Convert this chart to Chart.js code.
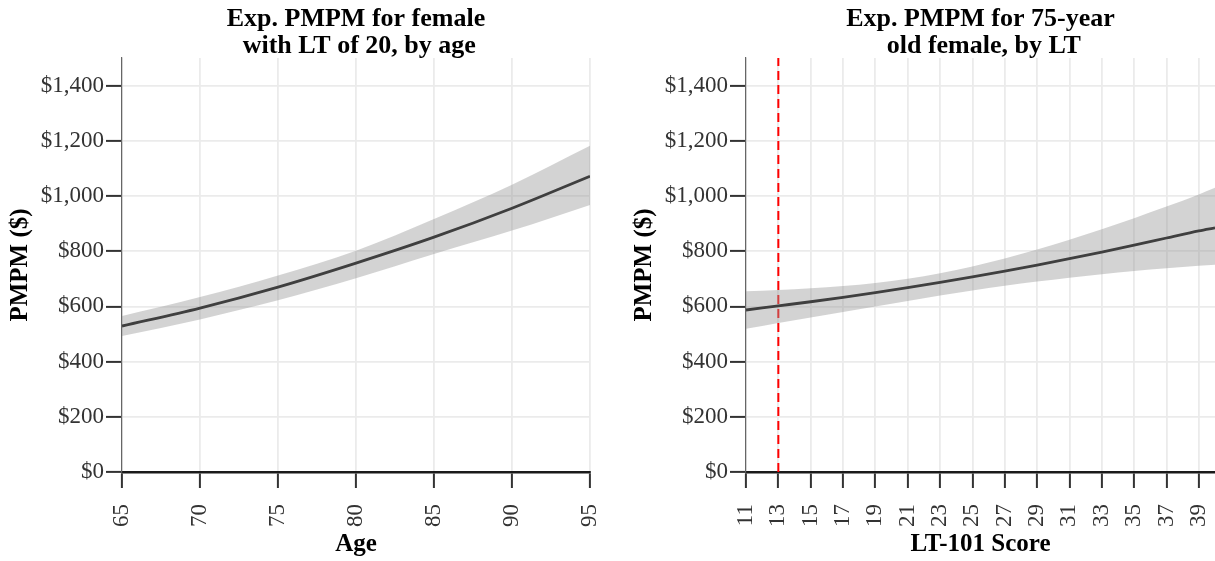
<!DOCTYPE html>
<html>
<head>
<meta charset="utf-8">
<title>Expected PMPM</title>
<script src="https://cdn.jsdelivr.net/npm/chart.js@4.4.1/dist/chart.umd.min.js"></script>
<style>
  html, body { margin: 0; padding: 0; background: #fff; }
  #wrap { position: relative; width: 1215px; height: 561px; overflow: hidden; }
  canvas { position: absolute; top: 0; }
  #ageChart { left: 0; }
  #ltChart { left: 624px; }
</style>
</head>
<body>
<div id="wrap">
  <canvas id="ageChart" width="607" height="561"></canvas>
  <canvas id="ltChart" width="591" height="561"></canvas>
</div>
<script>
// Panel 1: female with LT of 20, by age
const ages     = [65, 70, 75, 80, 85, 90, 95];
const ageFit   = [529, 594, 670, 757, 851, 956, 1072];
const ageLower = [493, 553, 622, 702, 790, 875, 968];
const ageUpper = [565, 634, 712, 802, 917, 1041, 1182];

// Panel 2: 75-year-old female, by LT-101 score
const ltScores = [11, 13, 15, 17, 19, 21, 23, 25, 27, 29, 31, 33, 35, 37, 39, 40];
const ltFit    = [587, 602, 617, 633, 650, 668, 687, 707, 728, 750, 773, 797, 822, 848, 874, 885];
const ltLower  = [519, 540, 560, 580, 600, 620, 640, 658, 675, 690, 704, 717, 728, 738, 747, 751];
const ltUpper  = [655, 660, 666, 674, 685, 700, 720, 745, 774, 806, 842, 880, 920, 962, 1006, 1030];
const ltCutoff = 13;

// Axis ticks
const pmpmTicks = [0, 200, 400, 600, 800, 1000, 1200, 1400];
const ageTicks  = [65, 70, 75, 80, 85, 90, 95];
const ltTicks   = [11, 13, 15, 17, 19, 21, 23, 25, 27, 29, 31, 33, 35, 37, 39];

const SERIF = "'Liberation Serif', 'Times New Roman', serif";

function pts(xs, ys) { return xs.map((x, i) => ({ x: x, y: ys[i] })); }
function dollars(v) { return '$' + String(v).replace(/\B(?=(\d{3})+(?!\d))/g, ','); }

function panel(canvasId, cfg) {
  const datasets = [
    { data: pts(cfg.xs, cfg.upper), borderWidth: 0, pointRadius: 0, fill: '+1',
      backgroundColor: 'rgba(150,150,150,0.42)', cubicInterpolationMode: 'monotone' },
    { data: pts(cfg.xs, cfg.lower), borderWidth: 0, pointRadius: 0, fill: false,
      cubicInterpolationMode: 'monotone' },
    { data: pts(cfg.xs, cfg.fit), borderColor: '#000', borderWidth: 2.8, pointRadius: 0,
      fill: false, cubicInterpolationMode: 'monotone' }
  ];
  if (cfg.cutoff !== undefined) {
    datasets.push({ data: [{ x: cfg.cutoff, y: 0 }, { x: cfg.cutoff, y: cfg.yMax }],
      borderColor: '#ff0000', borderWidth: 2, borderDash: [9, 5], pointRadius: 0, fill: false });
  }
  return new Chart(document.getElementById(canvasId), {
    type: 'line',
    data: { datasets: datasets },
    options: {
      responsive: false,
      animation: false,
      devicePixelRatio: 1,
      layout: { padding: { top: 0, right: cfg.padRight, bottom: 0, left: 0 } },
      plugins: {
        legend: { display: false },
        tooltip: { enabled: false },
        title: {
          display: true,
          fullSize: false,
          text: cfg.title,
          color: '#000',
          font: { family: SERIF, size: 26, weight: 'bold', lineHeight: 1.04 },
          padding: { top: 6, bottom: -2 }
        }
      },
      scales: {
        x: {
          type: 'linear',
          min: cfg.xMin,
          max: cfg.xMax,
          afterBuildTicks: s => { s.ticks = cfg.xTicks.map(v => ({ value: v })); },
          afterFit: s => { s.height = 89; s.paddingLeft = 0; s.paddingRight = 0; },
          grid: { color: '#ebebeb', lineWidth: 1.8, tickColor: '#333', tickWidth: 2, tickLength: 16 },
          border: { color: '#1a1a1a', width: 2.5 },
          ticks: { color: '#333', font: { family: SERIF, size: 23 }, minRotation: 90, maxRotation: 90,
                   padding: 16, autoSkip: false, callback: v => String(v) },
          title: { display: true, text: cfg.xTitle, color: '#000',
                   font: { family: SERIF, size: 25, weight: 'bold', lineHeight: 1.2 },
                   padding: { top: 0, bottom: 1 } }
        },
        y: {
          type: 'linear',
          min: 0,
          max: cfg.yMax,
          afterBuildTicks: s => { s.ticks = pmpmTicks.map(v => ({ value: v })); },
          afterFit: s => { s.width = 122; s.paddingTop = 0; s.paddingBottom = 0; },
          grid: { color: '#ebebeb', lineWidth: 1.8, tickColor: '#333', tickWidth: 2, tickLength: 16 },
          border: { color: '#666', width: 1.2 },
          ticks: { color: '#333', font: { family: SERIF, size: 23 }, padding: 2, callback: v => dollars(v) },
          title: { display: true, text: 'PMPM ($)', color: '#000',
                   font: { family: SERIF, size: 25, weight: 'bold', lineHeight: 1.2 },
                   padding: { top: 6, bottom: 0 } }
        }
      }
    }
  });
}

panel('ageChart', {
  xs: ages, fit: ageFit, lower: ageLower, upper: ageUpper,
  xMin: 65, xMax: 95, xTicks: ageTicks, yMax: 1500, padRight: 17,
  title: ['Exp. PMPM for female', ' with LT of 20, by age'], xTitle: 'Age'
});

panel('ltChart', {
  xs: ltScores, fit: ltFit, lower: ltLower, upper: ltUpper, cutoff: ltCutoff,
  xMin: 11, xMax: 40, xTicks: ltTicks, yMax: 1500, padRight: 0,
  title: ['Exp. PMPM for 75-year', ' old female, by LT'], xTitle: 'LT-101 Score'
});
</script>
</body>
</html>
